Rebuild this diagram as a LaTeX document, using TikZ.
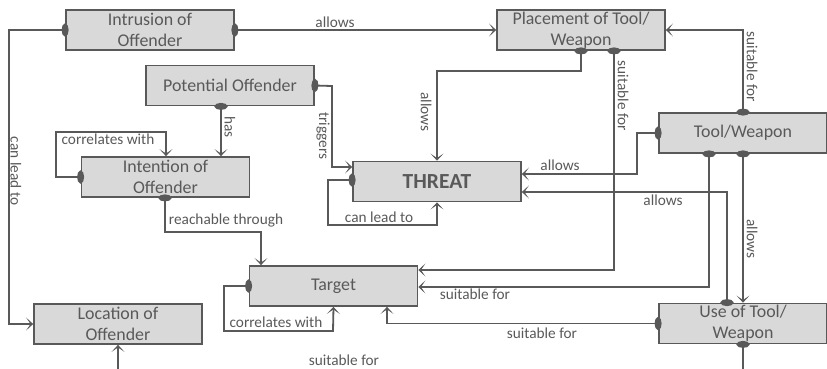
\documentclass[tikz,border=0pt]{standalone}
\usepackage{fontspec}
\setmainfont{Carlito}
\usetikzlibrary{arrows.meta}
\definecolor{ink}{HTML}{595959}
\definecolor{boxfill}{HTML}{D9D9D9}
\begin{document}
\begin{tikzpicture}[x=1pt,y=-1pt,
  conceptbox/.style={draw=ink, fill=boxfill, line width=1.8pt,
    minimum width=168pt, minimum height=40pt, inner sep=0pt,
    align=center, text=ink, font=\fontsize{17.9}{21}\selectfont},
  link/.style={draw=ink, line width=1.8pt,
    {Ellipse[length=7pt,width=13pt]}-{Stealth[length=7pt,width=13pt,inset=4.5pt]},
    shorten <=-3.5pt},
  stub/.style={draw=ink, line width=1.8pt},
  elabel/.style={text=ink, font=\fontsize{15.3}{18}\selectfont, inner sep=0pt},
  vlabel/.style={elabel, rotate=-90},
]
\useasboundingbox (0,0) rectangle (827,368);

% concept boxes
\node[conceptbox] (intr)   at (150,30)    {Intrusion of\\Offender};
\node[conceptbox] (pot)    at (230,85.5)  {Potential Offender};
\node[conceptbox] (place)  at (581,30)    {Placement of Tool/\\Weapon};
\node[conceptbox] (tool)   at (743,133)   {Tool/Weapon};
\node[conceptbox, font=\bfseries\fontsize{21.5}{24}\selectfont] (threat) at (437,181.5) {THREAT};
\node[conceptbox] (intent) at (165.5,177) {Intention of\\Offender};
\node[conceptbox] (target) at (333.5,286) {Target};
\node[conceptbox] (loc)    at (118,324)   {Location of\\Offender};
\node[conceptbox] (use)    at (743,323.5) {Use of Tool/\\Weapon};

% relations
\draw[link] (intr.east) -- (place.west);
\draw[link] (intr.west) -- (9,30) |- (loc.west);
\draw[link] (pot.east) -- (332,86) |- (threat.west |- 0,167);
\draw[link] (pot.south -| 221,0) -- (intent.north -| 221,0);
\draw[link] (intent.west) -- (56,177) |- (166,132) -- (intent.north -| 166,0);
\draw[link] (intent.south -| 165,0) |- (261,232) -- (target.north -| 261,0);
\draw[link] (threat.west |- 0,180) -- (328,180) |- (437,225) -- (threat.south);
\draw[link] (place.south) |- (437,71) -- (threat.north);
\draw[link] (place.south -| 614,0) |- (target.east |- 0,270);
\draw[link] (tool.north) |- (place.east);
\draw[link] (tool.west) -- (637,133) |- (threat.east |- 0,174);
\draw[link] (tool.south -| 709,0) |- (target.east |- 0,287);
\draw[link] (tool.south) -- (use.north);
\draw[link] (use.north -| 727,0) |- (threat.east |- 0,192);
\draw[link] (use.west) -| (target.south -| 387,0);
\draw[link] (target.west) -- (224,286) |- (333,331) -- (target.south);

% relation leaving the drawing area below
\coordinate (useout) at (743,372);
\coordinate (locin)  at (118,372);
\draw[stub, {Ellipse[length=7pt,width=13pt]}-, shorten <=-3.5pt] (use.south) -- (useout);
\draw[stub, -{Stealth[length=7pt,width=13pt,inset=4.5pt]}] (locin) -- (loc.south);

% relation labels
\node[elabel] (l1)  at (335,22)  {allows};
\node[vlabel] (l2)  at (16,171)  {can lead to};
\node[vlabel] (l3)  at (323,136) {triggers};
\node[vlabel] (l4)  at (230,127) {has};
\node[elabel] (l5)  at (108,139) {correlates with};
\node[elabel] (l6)  at (226,220) {reachable through};
\node[elabel] (l7)  at (379,217) {can lead to};
\node[vlabel] (l8)  at (426,112) {allows};
\node[vlabel] (l9)  at (623,96)  {suitable for};
\node[vlabel] (l10) at (752,67)  {suitable for};
\node[elabel] (l11) at (560,165) {allows};
\node[elabel] (l12) at (475,294) {suitable for};
\node[vlabel] (l13) at (752,239) {allows};
\node[elabel] (l14) at (663,200) {allows};
\node[elabel] (l15) at (542,333) {suitable for};
\node[elabel] (l16) at (276,322) {correlates with};
\node[elabel] (l17) at (344,360) {suitable for};
\end{tikzpicture}
\end{document}
